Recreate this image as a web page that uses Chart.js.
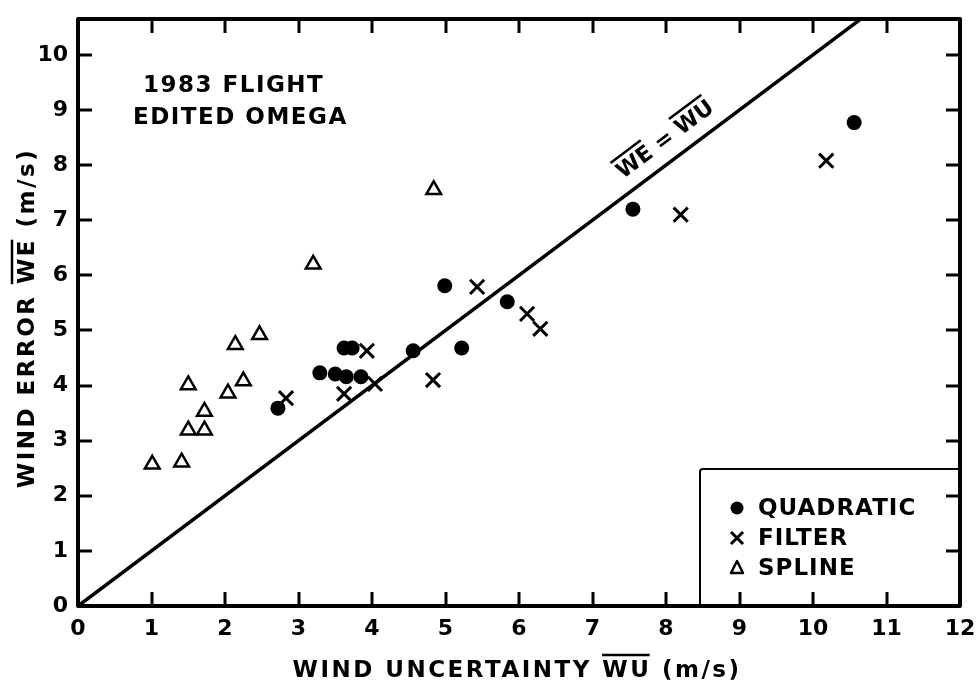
<!DOCTYPE html>
<html>
<head>
<meta charset="utf-8">
<script src="https://cdn.jsdelivr.net/npm/chart.js@4.4.1/dist/chart.umd.min.js"></script>
<style>
  html, body { margin: 0; background: #fff; }
  canvas { display: block; }
</style>
</head>
<body>
<canvas id="chart" width="980" height="698"></canvas>
<script>
// wind error vs wind uncertainty, 1983 flight, three fitting methods
const quadX = [2.72, 3.29, 3.50, 3.65, 3.85, 3.62, 3.73, 4.56, 4.99, 5.22, 5.84, 7.55, 10.56];
const quadY = [3.59, 4.23, 4.21, 4.16, 4.16, 4.68, 4.68, 4.63, 5.81, 4.68, 5.52, 7.20, 8.77];
const filtX = [2.83, 3.62, 3.93, 4.04, 4.83, 5.43, 6.11, 6.29, 8.20, 10.18];
const filtY = [3.77, 3.85, 4.63, 4.03, 4.10, 5.79, 5.30, 5.03, 7.10, 8.08];
const splX  = [1.01, 1.41, 1.50, 1.50, 1.72, 1.72, 2.04, 2.14, 2.25, 2.47, 3.20, 4.84];
const splY  = [2.57, 2.61, 4.01, 3.19, 3.19, 3.53, 3.86, 4.74, 4.08, 4.92, 6.20, 7.55];

const xTicks = [0, 1, 2, 3, 4, 5, 6, 7, 8, 9, 10, 11, 12];
const yTicks = [0, 1, 2, 3, 4, 5, 6, 7, 8, 9, 10];
const legendNames = ['QUADRATIC', 'FILTER', 'SPLINE'];

const FAM = "'DejaVu Sans', sans-serif";
const pts = (xs, ys) => xs.map((x, i) => ({ x, y: ys[i] }));

// text with overlined pieces, e.g. [['WIND ERROR ', false], ['WE', true], ...]
function overText(ctx, parts, x, y, lift) {
  const w = parts.map(p => ctx.measureText(p[0]).width);
  let cx = x - w.reduce((a, b) => a + b, 0) / 2;
  ctx.textAlign = 'left';
  parts.forEach((p, i) => {
    ctx.fillText(p[0], cx, y);
    if (p[1]) {
      ctx.beginPath();
      ctx.moveTo(cx + 1, y - lift);
      ctx.lineTo(cx + w[i] - 3, y - lift);
      ctx.stroke();
    }
    cx += w[i];
  });
}

const frame = {
  id: 'frame',
  afterDraw(chart) {
    const { ctx, chartArea: a, scales } = chart;
    const sx = scales.x, sy = scales.y;
    ctx.save();
    ctx.strokeStyle = '#000';
    ctx.lineCap = 'square';

    // legend box in the lower right corner
    const bx = 700, by = 469;
    ctx.fillStyle = '#fff';
    ctx.fillRect(bx, by, a.right - bx, a.bottom - by);
    ctx.lineWidth = 2;
    ctx.beginPath();
    ctx.moveTo(bx, a.bottom);
    ctx.lineTo(bx, by + 3);
    ctx.quadraticCurveTo(bx, by, bx + 3, by);
    ctx.lineTo(a.right, by);
    ctx.stroke();
    ctx.fillStyle = '#000';
    ctx.font = `bold 23px ${FAM}`;
    ctx.letterSpacing = '1px';
    ctx.textBaseline = 'middle';
    ctx.textAlign = 'left';
    const mx = 737, tx = 758, rows = [508, 538, 568];
    legendNames.forEach((n, i) => ctx.fillText(n, tx, rows[i] + 1));
    ctx.beginPath(); ctx.arc(mx, rows[0], 6.5, 0, Math.PI * 2); ctx.fill();
    ctx.lineWidth = 3;
    ctx.beginPath();
    ctx.moveTo(mx - 5, rows[1] - 5); ctx.lineTo(mx + 5, rows[1] + 5);
    ctx.moveTo(mx + 5, rows[1] - 5); ctx.lineTo(mx - 5, rows[1] + 5);
    ctx.stroke();
    ctx.lineWidth = 2.5;
    ctx.lineJoin = 'round';
    ctx.beginPath();
    ctx.moveTo(mx, rows[2] - 7); ctx.lineTo(mx + 6, rows[2] + 5); ctx.lineTo(mx - 6, rows[2] + 5);
    ctx.closePath(); ctx.stroke();

    // axes frame with inward ticks on all four sides
    ctx.lineWidth = 4;
    ctx.strokeRect(a.left, a.top, a.right - a.left, a.bottom - a.top);
    const tl = 14, tw = 3;
    for (const v of xTicks.slice(1, -1)) {
      const px = Math.round(sx.getPixelForValue(v));
      ctx.fillRect(px - tw / 2, a.bottom - tl, tw, tl);
      ctx.fillRect(px - tw / 2, a.top, tw, tl);
    }
    for (const v of yTicks.slice(1)) {
      const py = Math.round(sy.getPixelForValue(v));
      ctx.fillRect(a.left, py - tw / 2, tl, tw);
      ctx.fillRect(a.right - tl, py - tw / 2, tl, tw);
    }

    // annotation
    ctx.font = `bold 23px ${FAM}`;
    ctx.letterSpacing = '1.5px';
    ctx.textAlign = 'left';
    ctx.fillText('1983 FLIGHT', 143, 86);
    ctx.fillText('EDITED OMEGA', 133, 118);

    // label along the one-to-one line
    const p0 = { x: sx.getPixelForValue(0), y: sy.getPixelForValue(0) };
    const p1 = { x: sx.getPixelForValue(10), y: sy.getPixelForValue(10) };
    const ang = Math.atan2(p1.y - p0.y, p1.x - p0.x);
    const lx = sx.getPixelForValue(8.16) + Math.sin(ang) * 21;
    const ly = sy.getPixelForValue(8.16) - Math.cos(ang) * 21;
    ctx.save();
    ctx.translate(lx, ly);
    ctx.rotate(ang);
    ctx.font = `bold 22px ${FAM}`;
    ctx.letterSpacing = '0px';
    ctx.lineWidth = 2.5;
    overText(ctx, [['WE', true], [' = ', false], ['WU', true]], 0, 1, 15);
    ctx.restore();

    // axis titles
    ctx.font = `bold 23px ${FAM}`;
    ctx.letterSpacing = '2.5px';
    ctx.lineWidth = 2.5;
    overText(ctx, [['WIND UNCERTAINTY ', false], ['WU', true], [' (m/s)', false]], 517, 671, 16);
    ctx.save();
    ctx.translate(28, 318);
    ctx.rotate(-Math.PI / 2);
    overText(ctx, [['WIND ERROR ', false], ['WE', true], [' (m/s)', false]], 0, 0, 16);
    ctx.restore();

    ctx.restore();
  }
};

new Chart(document.getElementById('chart'), {
  type: 'scatter',
  data: {
    datasets: [
      { type: 'line', label: 'WE = WU', data: [{ x: 0, y: 0 }, { x: 12, y: 12 }],
        borderColor: '#000', borderWidth: 3.5, pointRadius: 0, fill: false },
      { label: legendNames[0], data: pts(quadX, quadY), pointStyle: 'circle', pointRadius: 7.5,
        backgroundColor: '#000', borderColor: '#000', borderWidth: 0 },
      { label: legendNames[1], data: pts(filtX, filtY), pointStyle: 'crossRot', pointRadius: 10,
        borderColor: '#000', borderWidth: 3 },
      { label: legendNames[2], data: pts(splX, splY), pointStyle: 'triangle', pointRadius: 8.5,
        backgroundColor: '#fff', borderColor: '#000', borderWidth: 2.5 },
    ],
  },
  options: {
    responsive: false, animation: false, devicePixelRatio: 1,
    layout: { padding: { top: 19, right: 20, left: 0, bottom: 0 } },
    plugins: { legend: { display: false }, tooltip: { enabled: false } },
    scales: {
      x: {
        type: 'linear', min: 0, max: 12,
        grid: { display: false, drawTicks: false }, border: { display: false },
        afterBuildTicks: s => { s.ticks = xTicks.map(v => ({ value: v })); },
        ticks: { color: '#000', padding: 10, maxRotation: 0, autoSkip: false,
                 font: { family: FAM, size: 22, weight: 'bold' } },
        afterFit: s => { s.height = 92; s.paddingLeft = 0; s.paddingRight = 0; },
      },
      y: {
        type: 'linear', min: 0, max: 10.65,
        grid: { display: false, drawTicks: false }, border: { display: false },
        afterBuildTicks: s => { s.ticks = yTicks.map(v => ({ value: v })); },
        ticks: { color: '#000', padding: 10, autoSkip: false,
                 font: { family: FAM, size: 22, weight: 'bold' } },
        afterFit: s => { s.width = 78; s.paddingTop = 0; s.paddingBottom = 0; },
      },
    },
  },
  plugins: [frame],
});
</script>
</body>
</html>
